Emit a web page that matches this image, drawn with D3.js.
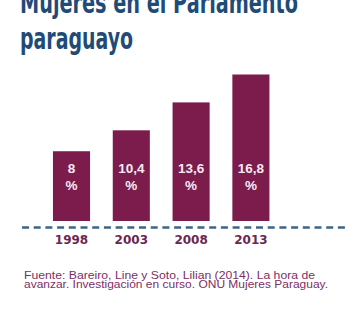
<!DOCTYPE html>
<html>
<head>
<meta charset="utf-8">
<script src="https://cdn.jsdelivr.net/npm/d3@7"></script>
<style>
  html, body { margin: 0; padding: 0; background: #ffffff; }
  svg { display: block; }
</style>
</head>
<body>
<script>
// Share of women in the Paraguayan Parliament, by election year
const years = ["1998", "2003", "2008", "2013"];
const shares = [8, 10.4, 13.6, 16.8];
const shareLabels = ["8", "10,4", "13,6", "16,8"];
const titleLines = ["Mujeres en el Parlamento", "paraguayo"];
const sourceLines = [
  "Fuente: Bareiro, Line y Soto, Lilian (2014). La hora de",
  "avanzar. Investigación en curso. ONU Mujeres Paraguay."
];

const W = 357, H = 325;
const barColor = "#7b1c4c";
const titleColor = "#1f4b78";

const svg = d3.select("body").append("svg")
  .attr("width", W).attr("height", H);

// Title: heavy condensed headline
const titleWidths = [278, 113];
svg.append("g").selectAll("text")
  .data(titleLines)
  .join("text")
  .attr("x", 20)
  .attr("y", (d, i) => 13 + i * 36)
  .attr("font-family", "'DejaVu Sans Condensed', 'DejaVu Sans', sans-serif")
  .attr("font-weight", "bold")
  .attr("font-size", 31)
  .attr("fill", titleColor)
  .attr("textLength", (d, i) => titleWidths[i])
  .attr("lengthAdjust", "spacingAndGlyphs")
  .text(d => d);

const x = d3.scaleBand()
  .domain(years)
  .range([41.6, 280.8])
  .paddingInner(0.38)
  .paddingOuter(0.19);

const y = d3.scaleLinear()
  .domain([0, 16.8])
  .range([221, 74.5]);

// Bars
svg.append("g").selectAll("rect")
  .data(years)
  .join("rect")
  .attr("x", d => x(d))
  .attr("width", x.bandwidth())
  .attr("y", (d, i) => y(shares[i]))
  .attr("height", (d, i) => y(0) - y(shares[i]))
  .attr("fill", barColor);

// Value labels inside each bar
const vl = svg.append("g")
  .attr("font-family", "'Liberation Sans', Arial, sans-serif")
  .attr("font-weight", "bold")
  .attr("font-size", 13.5)
  .attr("fill", "#f7e9f1")
  .attr("text-anchor", "middle");
vl.selectAll("text.v")
  .data(years)
  .join("text")
  .attr("class", "v")
  .attr("x", d => x(d) + x.bandwidth() / 2)
  .attr("y", 172.5)
  .text((d, i) => shareLabels[i]);
vl.selectAll("text.p")
  .data(years)
  .join("text")
  .attr("class", "p")
  .attr("x", d => x(d) + x.bandwidth() / 2)
  .attr("y", 190)
  .text("%");

// Dashed baseline
svg.append("line")
  .attr("x1", 22).attr("x2", 346)
  .attr("y1", 227.5).attr("y2", 227.5)
  .attr("stroke", "#3d6684")
  .attr("stroke-width", 2.5)
  .attr("stroke-dasharray", "7,4.7");

// Year axis labels
const xAxis = svg.append("g")
  .attr("transform", "translate(0,232)")
  .call(d3.axisBottom(x).tickSize(0).tickPadding(0));
xAxis.select(".domain").remove();
xAxis.selectAll("text")
  .attr("dy", 0)
  .attr("y", 12.3)
  .attr("font-family", "'DejaVu Sans', sans-serif")
  .attr("font-weight", "bold")
  .attr("font-size", 12)
  .attr("fill", "#6b2752");

// Source note
const sourceWidths = [291, 304];
svg.append("g").selectAll("text")
  .data(sourceLines)
  .join("text")
  .attr("x", 24)
  .attr("y", (d, i) => 279 + i * 9.4)
  .attr("font-family", "'Liberation Sans', Arial, sans-serif")
  .attr("font-size", 11)
  .attr("fill", "#7d2e66")
  .attr("textLength", (d, i) => sourceWidths[i])
  .attr("lengthAdjust", "spacingAndGlyphs")
  .text(d => d);
</script>
</body>
</html>
